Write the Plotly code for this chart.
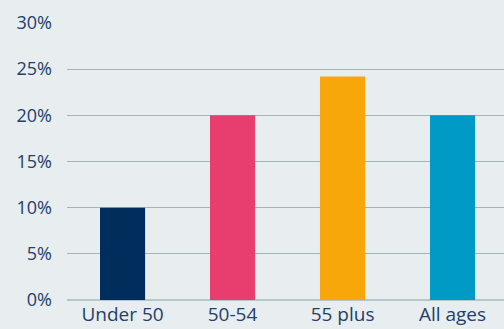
import plotly.graph_objects as go

categories = ["Under 50", "50-54", "55 plus", "All ages"]
values = [10, 20, 24.2, 20]
colors = ["#002d5c", "#e83e6f", "#f7a70a", "#009ac6"]
y_ticks = [0, 5, 10, 15, 20, 25, 30]
y_tick_labels = [f"{v}%" for v in y_ticks]

fig = go.Figure(go.Bar(x=categories, y=values, marker=dict(color=colors, line=dict(width=0)), width=0.41))

font_color = "#22406a"
fig.update_layout(
    width=504, height=329,
    margin=dict(l=67, r=0, t=23, b=29, autoexpand=False),
    paper_bgcolor="#e8edf0", plot_bgcolor="#e8edf0",
    font=dict(family="Open Sans, sans-serif", size=19, color=font_color),
    showlegend=False,
)
fig.update_xaxes(range=[-0.505, 3.468], showgrid=False, showline=False, ticks="",
                 automargin=False, ticklabelstandoff=1, tickfont=dict(size=19, color=font_color))
fig.update_yaxes(range=[0, 30], tickvals=y_ticks, ticktext=y_tick_labels, showgrid=True,
                 gridcolor="#a2b6b9", gridwidth=1, zeroline=True, zerolinecolor="#b6c7cb",
                 zerolinewidth=2, showline=False, ticks="", ticklabelstandoff=14,
                 automargin=False, tickfont=dict(size=18, color=font_color))

fig.write_html("out.html")
